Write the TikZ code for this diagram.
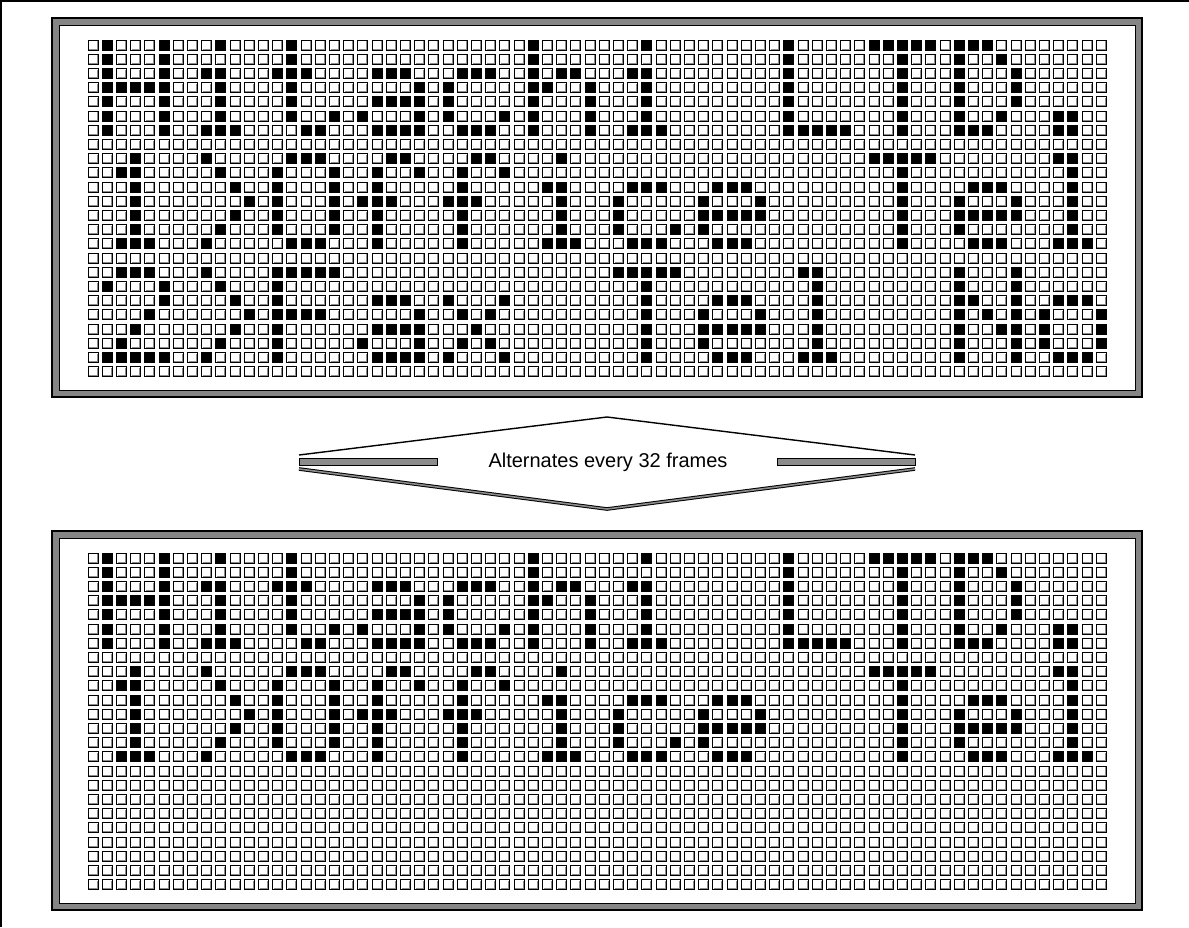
\documentclass[tikz,border=0pt]{standalone}
\usepackage{fontspec}
\setmainfont{Liberation Sans}
\usetikzlibrary{calc}

% lit dots of the 5x7 characters, row/{columns}
\def\msgrows{%
  0/{1,5,9,14,31,39,49,55,56,57,58,59,61,62,63},
  1/{1,5,14,31,49,57,61,64},
  2/{1,5,8,9,13,14,15,20,21,22,26,27,28,31,33,34,38,39,49,57,61,65},
  3/{1,2,3,4,5,9,14,23,25,31,32,35,39,49,57,61,65},
  4/{1,5,9,14,20,21,22,23,25,31,35,39,49,57,61,65},
  5/{1,5,9,14,17,19,23,25,29,31,35,39,49,57,61,64,68,69},
  6/{1,5,8,9,10,15,16,20,21,22,23,26,27,28,31,35,38,39,40,49,50,51,52,53,57,61,62,63,68,69},
  8/{3,8,14,15,16,21,22,27,28,33,55,56,57,58,59,68,69},
  9/{2,3,9,13,17,20,23,26,29,57,69},
  10/{3,10,13,17,20,26,32,33,38,39,40,44,45,46,57,62,63,64,69},
  11/{3,11,13,17,19,20,21,25,26,27,33,37,43,47,57,61,65,69},
  12/{3,10,13,17,20,26,33,37,43,44,45,46,47,57,61,62,63,64,65,69},
  13/{3,9,13,17,20,26,33,37,41,43,57,61,69},
  14/{2,3,4,8,14,15,16,20,26,32,33,34,38,39,40,44,45,46,57,62,63,64,68,69,70},
  16/{2,3,4,8,13,14,15,16,17,37,38,39,40,41,50,51,61,65},
  17/{1,5,9,13,39,51,61,65},
  18/{5,10,13,20,21,22,25,29,39,44,45,46,51,61,62,65,68,69,70},
  19/{4,11,13,14,15,16,23,26,28,39,43,47,51,61,63,65,67,71},
  20/{3,10,13,20,21,22,23,27,39,43,44,45,46,47,51,61,64,65,67,71},
  21/{2,9,13,19,23,26,28,39,43,51,61,65,67,71},
  22/{1,2,3,4,5,8,13,20,21,22,23,25,29,39,44,45,46,50,51,52,61,65,68,69,70}}

\begin{document}
\begin{tikzpicture}[x=1pt, y=-1pt,
  frameout/.style={draw=black, line width=2pt, fill=black!48},
  framein/.style={draw=black, line width=0.8pt, fill=white},
  cell/.style={draw=black, line width=0.8pt, fill=white},
  cellshade/.style={draw=black!45, line width=0.8pt},
  lit/.style={fill=black},
  edge/.style={draw=black, line width=1.4pt, line join=miter},
  rim/.style={draw=black, line width=1pt, double=black!45, double distance=1.6pt},
  bar/.style={draw=black, line width=0.9pt, fill=black!45},
]
\useasboundingbox (0,0) rectangle (1189,927);
\draw[line width=1.5pt] (0.75,927) -- (0.75,0.75) -- (1189,0.75);

% --- Panels ---
\foreach \py in {40,553}{
  \draw[frameout] (52,\py-22) rectangle (1142,\py+357);
  \draw[framein] (59,\py-15) rectangle (1135,\py+350);
  \foreach \rw in {0,...,23}{
    \foreach \col in {0,...,71}{
      \path[cell] (88+14.2*\col,\py+14.2*\rw) rectangle ++(10,10);
      \draw[cellshade] (88+14.2*\col+9,\py+14.2*\rw+1.2) -- ++(0,7.8) -- ++(-7.8,0);
    }
  }
}

% --- Lit dots: three lines on top, two below ---
\foreach \py/\last in {40/23, 553/15}{
  \foreach \rw/\cols in \msgrows{
    \ifnum\rw<\last
      \foreach \col in \cols{
        \fill[lit] (88+14.2*\col-0.4,\py+14.2*\rw-0.4) rectangle ++(10.8,10.8);
      }
    \fi
  }
}

% --- Alternation arrow ---
\coordinate (apexT) at (607,417);
\coordinate (apexB) at (607,509);
\coordinate (tipL) at (299,455);
\coordinate (tipR) at (915,455);
\coordinate (baseL) at (299,469);
\coordinate (baseR) at (915,469);
\draw[edge] (tipL) -- (apexT) -- (tipR);
\draw[rim] (baseL) -- (apexB) -- (baseR);
\draw[bar] (299,458.5) rectangle (437,465);
\draw[bar] (777,458.5) rectangle (915,465);
\node[font=\fontsize{20}{24}\selectfont] (msg) at (608,462) {Alternates every 32 frames};
\end{tikzpicture}
\end{document}
